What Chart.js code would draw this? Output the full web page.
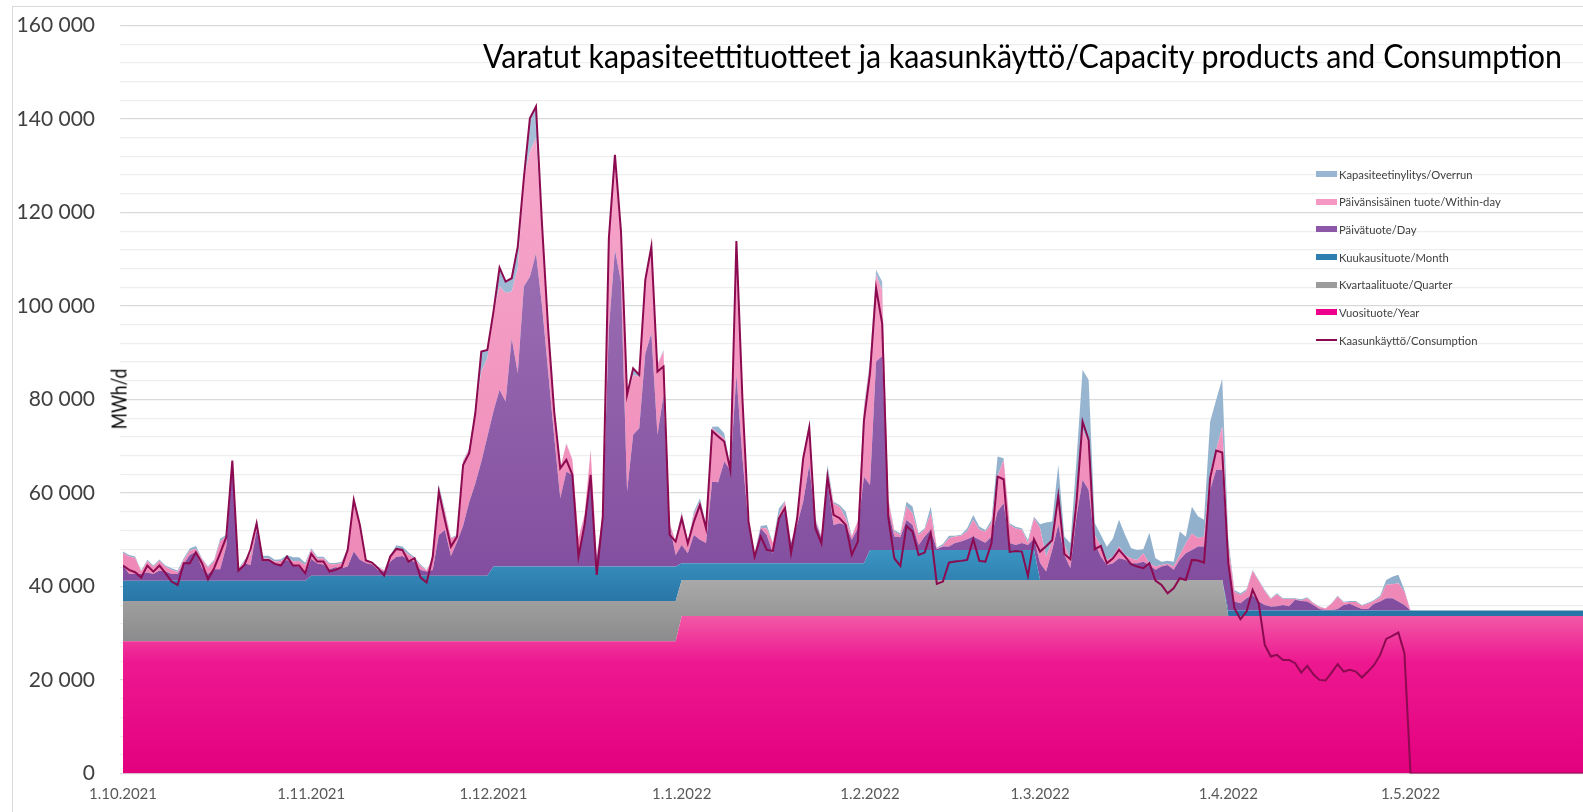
<!DOCTYPE html>
<html>
<head>
<meta charset="utf-8">
<script src="https://cdn.jsdelivr.net/npm/chart.js@4.4.0/dist/chart.umd.min.js"></script>
<style>
  html, body { margin: 0; padding: 0; background: #fff; overflow: hidden; }
  #wrap { position: relative; width: 1583px; height: 812px; overflow: hidden; }
  #frame { position: absolute; left: 12px; top: 6px; width: 1700px; height: 900px; border: 1px solid #d9d9d9; box-sizing: border-box; }
  #chart { position: absolute; left: 0; top: 0; }
  #title { position: absolute; left: 483px; top: 40px; font-family: Lato; font-size: 32px; line-height: 32px; color: #000; white-space: nowrap; transform-origin: 0 0; }
  #ytitle { position: absolute; left: 118px; top: 399px; font-family: Lato; font-size: 21px; line-height: 21px; color: #000; white-space: nowrap; }
  .lg-row { position: absolute; left: 1316px; height: 14px; display: flex; align-items: center; white-space: nowrap; }
  .lg-sw { width: 21px; height: 6px; margin-right: 2px; flex: none; }
  .lg-txt { font-family: Lato; font-size: 11.5px; color: #404040; display: inline-block; transform-origin: 0 50%; }
</style>
</head>
<body>
<div id="wrap">
  <div id="frame"></div>
  <canvas id="chart" width="1583" height="812"></canvas>
  <div id="title">Varatut kapasiteettituotteet ja kaasunkäyttö/Capacity products and Consumption</div>
  <div id="ytitle">MWh/d</div>
  <div id="legend"></div>
</div>
<script>
// kuukaudet 1.10.2021 - 31.5.2022
const monthLabels = ['1.10.2021', '1.11.2021', '1.12.2021', '1.1.2022', '1.2.2022', '1.3.2022', '1.4.2022', '1.5.2022'];
const monthLengths = [31, 30, 31, 31, 28, 31, 30, 31];

// kiinteät tuotteet kuukausittain (MWh/d)
const yearProduct = [28300, 28300, 28300, 33710, 33710, 33710, 33710, 33710];
const quarterProduct = [8600, 8600, 8600, 7700, 7700, 7700, 0, 0];
const monthProduct = [4350, 5400, 7360, 3570, 6420, 0, 1140, 1140];

// päivätuote / Day
const dayProduct = [
  // loka
  3400,1450,1450,1450,1750,1450,2150,1950,1450,1450,
  3600,5500,6200,2700,1450,2450,2450,7300,25400,2150,
  3700,3350,10850,4450,4450,3600,3600,4450,3350,3000,
  1450,
  // marras
  3600,2600,2400,1400,1800,1600,2000,5200,3400,2750,
  2400,1250,900,3000,4000,4250,3400,3000,1250,900,
  1250,8700,9800,4200,7200,10700,15700,19700,24400,29800,
  // joulu
  33200,37800,35300,48850,41350,59900,62000,67000,55750,41750,
  27750,14600,20300,19600,2500,10350,18900,1750,10700,51000,
  67750,60950,16050,28200,29600,45600,49900,28200,36700,8900,
  2500,
  // tammi
  3900,2150,6050,5000,4300,17450,17300,21750,19950,40300,
  22450,8200,1800,7500,6050,2150,9600,11050,4300,8200,
  13200,21000,8900,5350,17450,8200,8550,8200,5000,7500,
  18500,
  // helmi
  13900,40300,41500,8550,2850,2700,6400,5350,1050,2850,
  4300,150,700,700,1450,1800,2300,2850,2150,1550,
  2850,8200,10000,1450,1050,1450,1050,2400,
  // maalis
  3600,1800,6400,11800,5350,2500,13550,21400,19250,7850,
  5000,3200,3550,4650,4300,3550,3550,3900,3200,2150,
  2850,3200,2150,4300,5700,6400,7150,7150,19250,23550,
  23550,
  // huhti
  10150,1950,1550,2650,3350,1950,1200,850,950,1200,
  950,2300,2050,1950,1200,350,150,150,350,1200,
  1450,850,350,350,1450,1950,2650,2650,1950,1200,
  // touko
  0,0,0,0,0,0,0,0,0,0,0,0,0,0,0,0,0,0,0,0,0,0,0,0,0,0,0,0,0,0,0
];

// päivänsisäinen tuote / Within-day
const withinDay = [
  2500,3700,3400,500,2400,1500,2100,1000,900,400,
  800,900,600,1900,1300,1700,6000,2200,200,300,
  400,2200,1200,300,300,500,600,400,800,1200,
  1900,
  2000,1100,1300,1050,650,1100,3600,10700,7500,500,
  400,500,200,1100,2000,1300,1200,700,850,200,
  2400,10000,3900,3800,1300,13800,11300,15300,19250,16800,
  21400,22100,23200,10000,22450,23200,26750,24600,17350,9240,
  5420,6420,6000,3200,3550,700,6050,500,500,19250,
  20300,10700,20650,12800,11050,15700,18500,15000,9300,300,
  2850,
  6800,2150,4300,8200,3900,11400,10500,5000,350,28500,
  14250,700,350,100,1400,2150,700,2150,100,1400,
  9250,8550,400,350,2150,4600,3550,1400,700,1400,
  14300,
  26000,18550,14100,2150,1050,500,2850,2500,2150,1450,
  3550,200,200,1800,1400,1200,1650,3550,2150,2350,
  2850,7500,9250,3900,3550,2850,350,4350,
  7500,3200,1800,6050,2150,1800,5700,10700,10000,1800,
  2150,1050,1400,2500,1050,1050,700,1800,350,700,
  350,250,700,1050,2150,3550,1800,2150,3550,4300,
  9250,
  3500,2100,1800,1600,5100,4400,2950,1600,2500,1250,
  1500,150,100,700,350,400,300,1300,2600,550,
  400,1000,700,1100,600,900,2850,3000,3900,2850,
  0,0,0,0,0,0,0,0,0,0,0,0,0,0,0,0,0,0,0,0,0,0,0,0,0,0,0,0,0,0,0
];

// kapasiteetinylitys / Overrun
const overrun = [
  350,350,300,200,300,300,300,300,300,300,
  400,500,600,200,300,300,500,300,100,200,
  300,300,200,600,600,350,400,650,850,800,
  500,
  300,350,350,300,300,300,300,500,350,300,
  200,200,150,300,550,700,400,300,300,150,
  250,700,400,200,200,200,200,200,4300,1800,
  200,4050,2500,2850,4600,200,7150,6800,100,100,
  100,100,100,100,100,100,100,100,100,100,
  100,100,100,1450,400,100,100,100,350,100,
  100,
  350,150,700,700,150,350,1450,1050,100,150,
  100,100,100,350,700,150,1400,150,100,100,
  100,700,300,100,1400,350,350,1450,200,200,
  700,
  700,1050,1800,350,350,350,1050,1450,350,350,
  1450,150,350,500,150,250,700,1050,700,350,
  700,4300,350,350,350,350,700,350,
  800,7300,4300,6800,1800,3550,6400,12850,13550,2500,
  2500,2850,3900,5700,4300,2150,2150,850,6550,1800,
  700,650,1050,5000,1400,5700,4650,3550,11050,10700,
  10300,
  1500,350,350,300,250,200,250,200,250,200,
  200,200,250,200,150,100,50,100,200,150,
  200,200,150,250,200,350,1050,1600,1800,350,
  0,0,0,0,0,0,0,0,0,0,0,0,0,0,0,0,0,0,0,0,0,0,0,0,0,0,0,0,0,0,0
];

// kaasunkäyttö / Consumption
const consumption = [
  44480,43550,43050,41910,44480,43190,44480,42840,41050,40340,
  44980,44980,47330,44980,41550,43910,47120,50540,66940,43410,
  44620,47970,53530,45690,45690,44830,44480,46400,44480,44480,
  42840,
  46970,45330,45330,43190,43550,44120,47830,58520,53180,45550,
  45120,43910,42340,46400,48040,47830,45330,46050,41910,40840,
  46400,60310,54250,48540,50680,66000,68500,77000,90250,90610,
  98810,108220,105220,105940,112710,127330,140170,142660,117350,95240,
  77420,65300,67080,63870,46400,53180,63870,42480,54960,114490,
  132320,115920,80980,86690,85260,105580,112710,85970,87040,51040,
  49610,
  54600,49260,53890,57450,52460,73280,72070,71000,64940,113920,
  80000,53890,46400,50680,47830,47610,54600,56740,47120,54600,
  67440,74000,52460,49260,63510,55320,54600,53180,46760,49610,
  75500,
  85620,103800,96310,54960,46050,44410,52960,51750,46760,47260,
  51390,40560,41050,45120,45330,45480,45690,50110,45480,45330,
  49260,63510,62950,47400,47610,47470,42270,50110,
  47470,48610,49900,59380,46970,45830,58170,75280,71360,47970,
  48680,44980,46050,47830,46400,44760,44260,43910,44980,41270,
  40340,38560,39630,41770,41410,45690,45550,45120,63160,69080,
  68650,
  45000,35350,33000,34640,39270,36420,27510,25010,25370,24300,
  24300,23590,21590,23020,21230,20020,19880,21590,23370,21800,
  22160,21800,20520,21800,23230,25370,28790,29430,30150,25730,
  0,0,0,0,0,0,0,0,0,0,0,0,0,0,0,0,0,0,0,0,0,0,0,0,0,0,0,0,0,0,0
];

// kuukauden ensimmäisen päivän indeksi
const monthStart = [];
let acc = 0;
monthLengths.forEach(n => { monthStart.push(acc); acc += n; });

function perDay(monthly) {
  const out = [];
  monthly.forEach((v, m) => { for (let d = 0; d < monthLengths[m]; d++) out.push(v); });
  return out;
}
function points(arr) {
  return arr.map((v, i) => ({ x: i, y: v }));
}
function vGrad(stops, vTop, vBottom) {
  return function(ctx) {
    const chart = ctx.chart;
    if (!chart.chartArea) return stops[0][1];
    const y = chart.scales.y;
    const g = chart.ctx.createLinearGradient(0, y.getPixelForValue(vTop), 0, y.getPixelForValue(vBottom));
    stops.forEach(s => g.addColorStop(s[0], s[1]));
    return g;
  };
}
function fmt(v) {
  return String(v).replace(/\B(?=(\d{3})+(?!\d))/g, ' ');
}

const series = [
  { label: 'Vuosituote/Year', data: perDay(yearProduct), swatch: '#ec008c',
    bg: vGrad([[0, '#f25aa7'], [0.3, '#ed1890'], [1, '#e3007e']], 34000, 0) },
  { label: 'Kvartaalituote/Quarter', data: perDay(quarterProduct), swatch: '#9c9c9c',
    bg: vGrad([[0, '#a9a9a9'], [1, '#8b8b8d']], 41400, 28300) },
  { label: 'Kuukausituote/Month', data: perDay(monthProduct), swatch: '#2d7fb0',
    bg: vGrad([[0, '#3b95c2'], [1, '#2876a7']], 48000, 36900) },
  { label: 'Päivätuote/Day', data: dayProduct, swatch: '#8c57a8',
    bg: vGrad([[0, '#a47cbb'], [1, '#834e9f']], 140000, 42000) },
  { label: 'Päivänsisäinen tuote/Within-day', data: withinDay, swatch: '#f598c3',
    bg: vGrad([[0, '#f7a9cc'], [1, '#ee88b7']], 140000, 40000) },
  { label: 'Kapasiteetinylitys/Overrun', data: overrun, swatch: '#98b6d3',
    bg: vGrad([[0, '#a6c0d8'], [1, '#8eaecb']], 140000, 40000) }
];

const datasets = series.map((s, i) => ({
  label: s.label,
  data: points(s.data),
  backgroundColor: s.bg,
  borderWidth: 0,
  borderColor: 'rgba(0,0,0,0)',
  fill: i === 0 ? 'origin' : '-1',
  stack: 'capacity',
  order: 1
}));
datasets.push({
  label: 'Kaasunkäyttö/Consumption',
  data: points(consumption),
  borderColor: '#8b0a50',
  borderWidth: 2,
  fill: false,
  stack: 'consumption',
  order: 0
});

new Chart(document.getElementById('chart'), {
  type: 'line',
  data: { datasets: datasets },
  options: {
    responsive: false,
    animation: false,
    devicePixelRatio: 1,
    layout: { padding: { top: 25.5, right: 0, bottom: 0, left: 0 } },
    elements: { point: { radius: 0 }, line: { tension: 0 } },
    plugins: { legend: { display: false }, tooltip: { enabled: false } },
    scales: {
      x: {
        type: 'linear', min: 0, max: 240.4,
        grid: { display: false, drawTicks: false },
        border: { display: false },
        afterBuildTicks: s => { s.ticks = monthStart.map(v => ({ value: v })); },
        afterFit: s => { s.height = 38.5; s.paddingLeft = 0; s.paddingRight = 0; },
        ticks: {
          autoSkip: false, maxRotation: 0, padding: 12, color: '#595959',
          font: { family: 'Lato', size: 15 },
          callback: v => monthLabels[monthStart.indexOf(v)] || ''
        }
      },
      y: {
        stacked: true, min: 0, max: 160000,
        afterBuildTicks: s => {
          const t = [];
          for (let v = 0; v <= 160000; v += 4000) t.push({ value: v });
          s.ticks = t;
        },
        afterFit: s => { s.width = 123; s.paddingTop = 0; s.paddingBottom = 0; },
        grid: {
          color: c => (c.tick && c.tick.value % 20000 === 0) ? '#d9d9d9' : '#eeeeee',
          lineWidth: 1.2, tickLength: 3
        },
        border: { display: false },
        ticks: {
          autoSkip: false, padding: 25, color: '#404040',
          font: { family: 'Lato', size: 21 },
          callback: v => v % 20000 === 0 ? fmt(v) : ''
        }
      }
    }
  }
});

// selite oikealle
const legend = document.getElementById('legend');
const rowY = [174.3, 201.7, 229.3, 257.3, 284.7, 312, 340];
const legendItems = series.slice().reverse().map(s => ({ label: s.label, color: s.swatch, line: false }));
legendItems.push({ label: 'Kaasunkäyttö/Consumption', color: '#8b0a50', line: true });
const txts = [];
legendItems.forEach((it, k) => {
  const row = document.createElement('div');
  row.className = 'lg-row';
  row.style.top = (rowY[k] - 7) + 'px';
  const sw = document.createElement('span');
  sw.className = 'lg-sw';
  sw.style.background = it.color;
  if (it.line) sw.style.height = '1.5px';
  const tx = document.createElement('span');
  tx.className = 'lg-txt';
  tx.textContent = it.label;
  row.appendChild(sw);
  row.appendChild(tx);
  legend.appendChild(row);
  txts.push(tx);
});

function fitAll() {
  const title = document.getElementById('title');
  title.style.transform = '';
  title.style.transform = 'scaleX(' + (1079 / title.getBoundingClientRect().width) + ')';

  const yt = document.getElementById('ytitle');
  yt.style.transform = '';
  const k = 60.5 / yt.getBoundingClientRect().width;
  yt.style.transform = 'translate(-50%, -50%) rotate(-90deg) scaleX(' + k + ')';

  txts.forEach(t => t.style.transform = '');
  const kl = 161.7 / txts[1].getBoundingClientRect().width;
  txts.forEach(t => t.style.transform = 'scaleX(' + kl + ')');
}
fitAll();
if (document.fonts && document.fonts.ready) document.fonts.ready.then(fitAll);
</script>
</body>
</html>
